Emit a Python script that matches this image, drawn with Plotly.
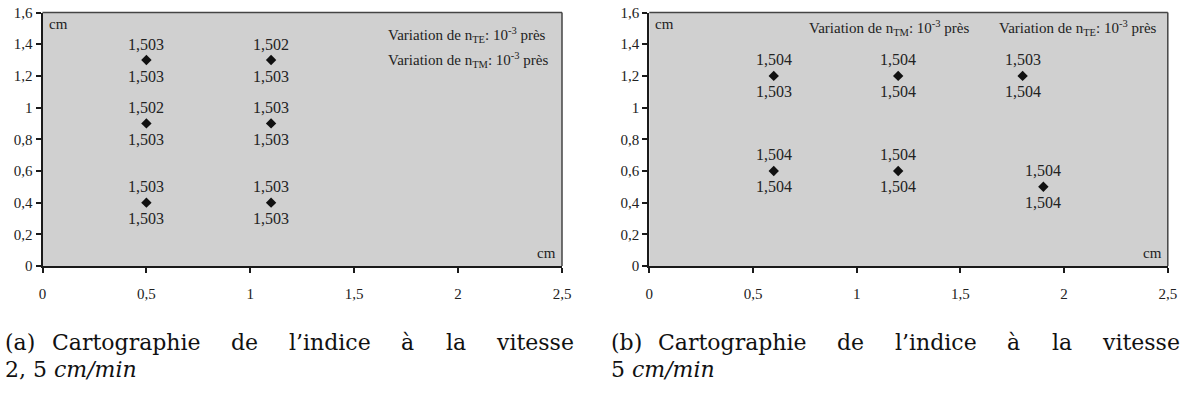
import plotly.graph_objects as go

# --- data -----------------------------------------------------------------
# (a) 2,5 cm/min : measurement positions (cm) and refractive indices
a_x = [0.5, 1.1, 0.5, 1.1, 0.5, 1.1]
a_y = [1.3, 1.3, 0.9, 0.9, 0.4, 0.4]
a_upper = [1.503, 1.502, 1.502, 1.503, 1.503, 1.503]
a_lower = [1.503, 1.503, 1.503, 1.503, 1.503, 1.503]

# (b) 5 cm/min
b_x = [0.6, 1.2, 1.8, 0.6, 1.2, 1.9]
b_y = [1.2, 1.2, 1.2, 0.6, 0.6, 0.5]
b_upper = [1.504, 1.504, 1.503, 1.504, 1.504, 1.504]
b_lower = [1.503, 1.504, 1.504, 1.504, 1.504, 1.504]

x_ticks = [0, 0.5, 1, 1.5, 2, 2.5]
y_ticks = [0, 0.2, 0.4, 0.6, 0.8, 1, 1.2, 1.4, 1.6]

note_te = "Variation de n<sub>TE</sub>: 10<sup>-3</sup> près"
note_tm = "Variation de n<sub>TM</sub>: 10<sup>-3</sup> près"
caption_words = ["Cartographie", "de", "l’indice", "à", "la", "vitesse"]

# --- layout helpers -------------------------------------------------------
W, H = 1182, 399
SERIF = "Liberation Serif"
CAPTION_FONT = "DejaVu Serif"
TXT = "#222222"


def fx(px):
    return px / W


def fy(py):
    return 1 - py / H


def fmt(v):
    return f"{v:.3f}".replace(".", ",")


def paper_text(px, py, text, font, xanchor="left"):
    return dict(x=fx(px), y=fy(py), xref="paper", yref="paper", text=text,
                showarrow=False, xanchor=xanchor, yanchor="middle", font=font)


fig = go.Figure()

panels = [
    ("x", "y", a_x, a_y, a_upper, a_lower, (42.5, 562.0)),
    ("x2", "y2", b_x, b_y, b_upper, b_lower, (649.3, 1167.8)),
]

label_font = dict(family=SERIF, size=16, color=TXT)
unit_font = dict(family=SERIF, size=15, color=TXT)

annotations = []
shapes = []
for xa, ya, xs, ys, up, lo, (left, right) in panels:
    fig.add_trace(go.Scatter(
        x=xs, y=ys, mode="markers", xaxis=xa, yaxis=ya,
        marker=dict(symbol="diamond", size=8, color="#111111"),
        showlegend=False, hoverinfo="skip",
    ))
    for xv, yv, u, l in zip(xs, ys, up, lo):
        annotations.append(dict(x=xv, y=yv, xref=xa, yref=ya, text=fmt(u),
                                showarrow=False, yshift=16, yanchor="middle",
                                font=label_font))
        annotations.append(dict(x=xv, y=yv, xref=xa, yref=ya, text=fmt(l),
                                showarrow=False, yshift=-16, yanchor="middle",
                                font=label_font))
    # unit labels inside the plot area
    annotations.append(paper_text(left + 4, 24, "cm", unit_font))
    annotations.append(paper_text(right - 4, 253, "cm", unit_font, xanchor="right"))
    # thin top / right frame
    dx = "x domain" if xa == "x" else "x2 domain"
    dy = "y domain" if ya == "y" else "y2 domain"
    shapes.append(dict(type="line", xref=dx, yref=dy, x0=0, x1=1, y0=1, y1=1,
                       line=dict(color="#444444", width=1.5)))
    shapes.append(dict(type="line", xref=dx, yref=dy, x0=1, x1=1, y0=0, y1=1,
                       line=dict(color="#444444", width=1.5)))

# precision notes
note_font = dict(family=SERIF, size=15, color=TXT)
annotations += [
    paper_text(386, 35, note_te, note_font),
    paper_text(386, 60, note_tm, note_font),
    paper_text(807, 28, note_tm, note_font),
    paper_text(997, 28, note_te, note_font),
]

# justified sub-figure captions
word_offsets = [3, 50, 229, 287, 399, 444, 494]
cap_font = dict(family=CAPTION_FONT, size=22, color="#111111")
for letter, x0, second in [("a", 0, "2, 5 <i>cm/min</i>"), ("b", 606, "5 <i>cm/min</i>")]:
    words = [f"({letter})"] + caption_words
    for w, off in zip(words, word_offsets):
        annotations.append(paper_text(x0 + off, 342, w, cap_font))
    annotations.append(paper_text(x0 + 3, 369, second, cap_font))

axis_common = dict(
    showgrid=False, zeroline=False, showline=True, linecolor="#1a1a1a", linewidth=2,
    ticks="outside", ticklen=5, tickwidth=1.5, tickcolor="#1a1a1a", automargin=False,
    tickfont=dict(family=SERIF, size=15, color=TXT), fixedrange=True,
)

fig.update_layout(
    width=W, height=H, margin=dict(l=0, r=0, t=0, b=0, pad=0, autoexpand=False),
    paper_bgcolor="white", plot_bgcolor="#d0d0d0",
    separators=", ",
    xaxis=dict(domain=[fx(42.5), fx(562.0)], range=[0, 2.5], tickvals=x_ticks,
               anchor="y", ticklabelstandoff=8, **axis_common),
    yaxis=dict(domain=[fy(266), fy(12.5)], range=[0, 1.6], tickvals=y_ticks,
               anchor="x", **axis_common),
    xaxis2=dict(domain=[fx(649.3), fx(1167.8)], range=[0, 2.5], tickvals=x_ticks,
                anchor="y2", ticklabelstandoff=8, **axis_common),
    yaxis2=dict(domain=[fy(266), fy(12.5)], range=[0, 1.6], tickvals=y_ticks,
                anchor="x2", **axis_common),
    annotations=annotations, shapes=shapes,
)

fig.write_html("out.html")
